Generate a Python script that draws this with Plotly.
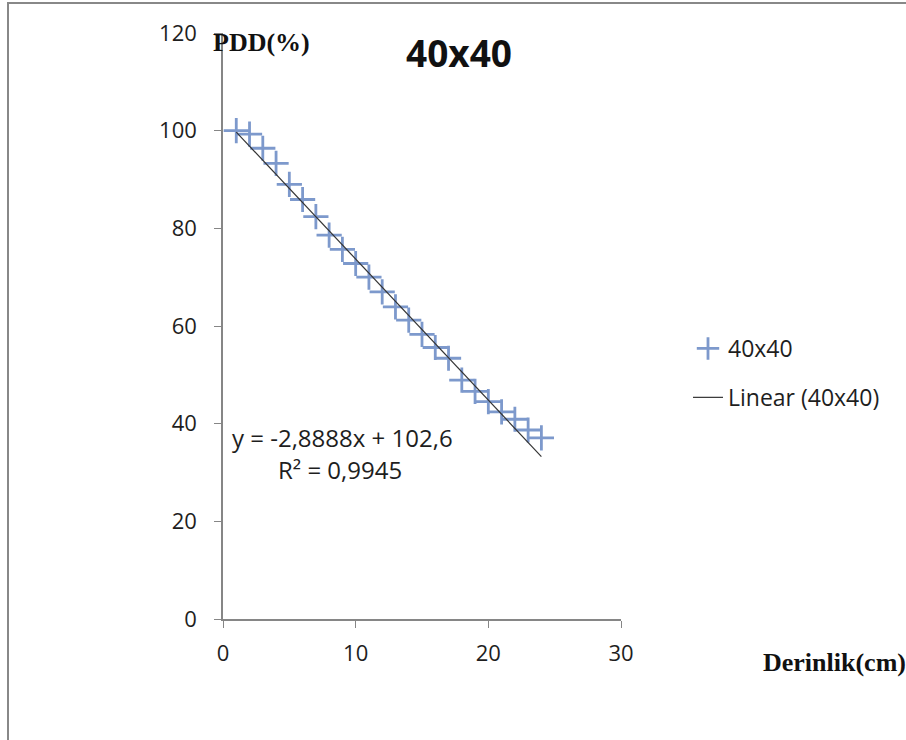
import plotly.graph_objects as go

# Data
depth_cm = [1, 2, 3, 4, 5, 6, 7, 8, 9, 10, 11, 12, 13, 14, 15, 16, 17, 18, 19, 20, 21, 22, 23, 24]
pdd_40x40 = [100.0, 99.3, 96.4, 93.3, 89.0, 85.9, 82.4, 78.6, 75.7, 72.8, 70.0, 67.0,
             63.9, 61.2, 58.3, 55.6, 53.4, 48.9, 46.6, 44.5, 42.4, 40.9, 38.7, 37.1]

# Trendline shown on the chart
trend_slope = -2.8888
trend_intercept = 102.6
trend_x = [depth_cm[0], depth_cm[-1]]
trend_y = [trend_slope * x + trend_intercept for x in trend_x]
equation_text = "y = -2,8888x + 102,6"
r2_text = "R² = 0,9945"

x_ticks = [0, 10, 20, 30]
y_ticks = [0, 20, 40, 60, 80, 100, 120]

SANS = "'Open Sans', Lato, sans-serif"
SERIF = "'Liberation Serif', 'DejaVu Serif', serif"
GRAY = "#868686"
TXT = "#1e1e1e"

# plot area in pixels: x 223..621, y 33..619
PW, PH, L, T = 398, 586, 223, 33


def px_x(p):
    return (p - L) / PW


def px_y(p):
    return 1 - (p - T) / PH


fig = go.Figure()
fig.add_trace(go.Scatter(
    x=depth_cm, y=pdd_40x40, mode="markers", name="40x40",
    legendgroup="a",
    marker=dict(symbol="cross-thin", size=18, line=dict(width=2.8, color="#7D99CC"), color="#7D99CC"),
))
fig.add_trace(go.Scatter(
    x=trend_x, y=trend_y, mode="lines", name="Linear (40x40)",
    legendgroup="b",
    line=dict(color="#333333", width=1.2),
))

fig.update_layout(
    width=906, height=740,
    margin=dict(l=223, r=285, t=33, b=121),
    paper_bgcolor="white", plot_bgcolor="white",
    font=dict(family=SANS, size=22, color=TXT),
    showlegend=True,
    legend=dict(x=px_x(688), xanchor="left", y=px_y(373), yanchor="middle",
                font=dict(family=SANS, size=23, color=TXT),
                tracegroupgap=16, bgcolor="rgba(0,0,0,0)"),
    xaxis=dict(range=[0, 30], tickvals=x_ticks, showgrid=False, zeroline=False,
               showline=True, linecolor=GRAY, linewidth=1.5,
               ticks="outside", ticklen=7, tickcolor=GRAY, tickwidth=1,
               ticklabelstandoff=7, tickfont=dict(size=22, color=TXT)),
    yaxis=dict(range=[0, 120], tickvals=y_ticks, showgrid=False, zeroline=False,
               showline=True, linecolor=GRAY, linewidth=1.5,
               ticks="outside", ticklen=7, tickcolor=GRAY, tickwidth=1,
               ticklabelstandoff=13, tickfont=dict(size=22, color=TXT)),
    annotations=[
        dict(text="<b>40x40</b>", xref="paper", yref="paper", x=px_x(459), y=px_y(52),
             xanchor="center", yanchor="middle", showarrow=False,
             font=dict(family=SANS, size=37, color="#111111")),
        dict(text="<b>PDD(%)</b>", xref="paper", yref="paper", x=px_x(211), y=px_y(42),
             xanchor="left", yanchor="middle", showarrow=False,
             font=dict(family=SERIF, size=26, color="#111111")),
        dict(text="<b>Derinlik(cm)</b>", xref="paper", yref="paper", x=px_x(908), y=px_y(662),
             xanchor="right", yanchor="middle", showarrow=False,
             font=dict(family=SERIF, size=26, color="#111111")),
        dict(text=equation_text, xref="paper", yref="paper", x=px_x(230), y=px_y(437),
             xanchor="left", yanchor="middle", showarrow=False,
             font=dict(family=SANS, size=24, color=TXT)),
        dict(text=r2_text, xref="paper", yref="paper", x=px_x(276), y=px_y(469),
             xanchor="left", yanchor="middle", showarrow=False,
             font=dict(family=SANS, size=24, color=TXT)),
    ],
    shapes=[
        dict(type="line", xref="paper", yref="paper", x0=px_x(8), x1=px_x(8), y0=px_y(2), y1=px_y(760),
             line=dict(color="#888888", width=2)),
        dict(type="line", xref="paper", yref="paper", x0=px_x(7), x1=px_x(920), y0=px_y(3), y1=px_y(3),
             line=dict(color="#888888", width=2)),
    ],
)

fig.write_html("out.html")
